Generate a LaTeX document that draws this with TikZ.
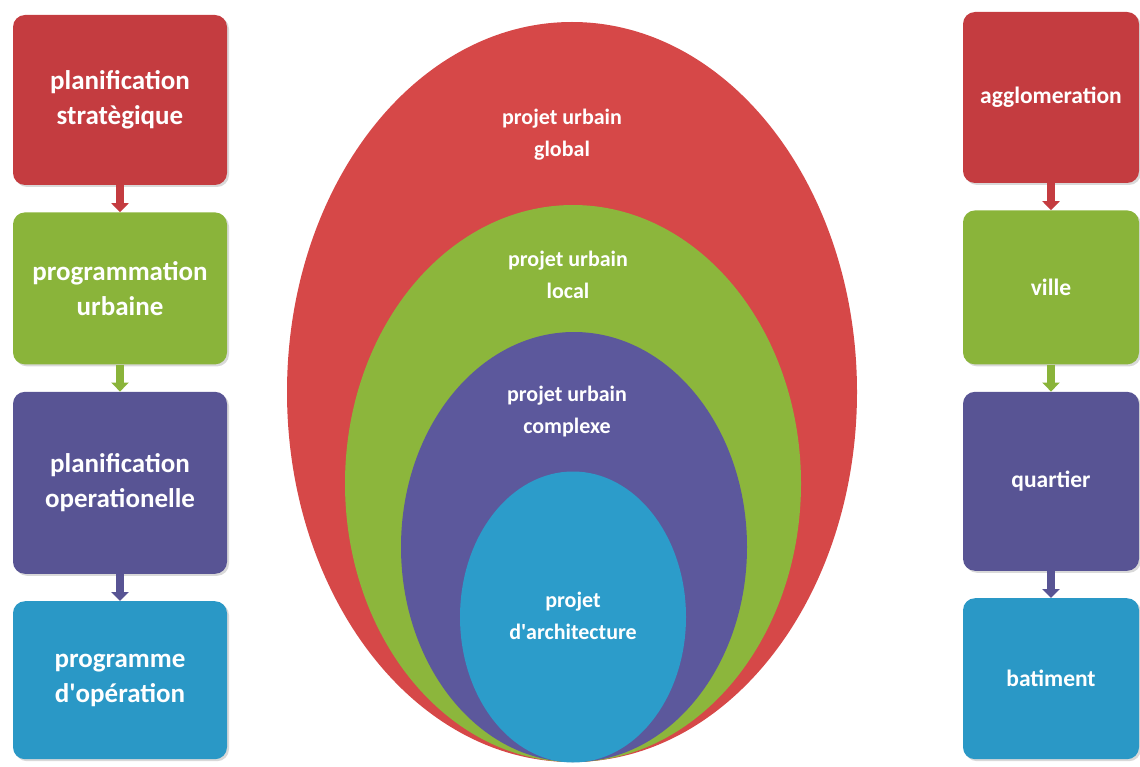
\documentclass[tikz,border=0pt]{standalone}
\usepackage{fontspec}
\setmainfont{Carlito}
\usetikzlibrary{positioning,shapes.geometric,arrows.meta,shadows}

\definecolor{boxred}{RGB}{196,60,64}
\definecolor{boxgreen}{RGB}{138,180,58}
\definecolor{boxblue}{RGB}{88,84,148}
\definecolor{boxcyan}{RGB}{42,152,198}
\definecolor{ovalred}{RGB}{214,72,72}
\definecolor{ovalgreen}{RGB}{140,182,60}
\definecolor{ovalblue}{RGB}{92,88,156}
\definecolor{ovalcyan}{RGB}{44,156,202}

\tikzset{
	box/.style={rounded corners=12pt, minimum width=214pt, text width=200pt, align=center,
		text=white, font=\bfseries\fontsize{27}{35}\selectfont,
		drop shadow={opacity=0.3, shadow xshift=2pt, shadow yshift=-2pt}},
	rbox/.style={box, minimum width=176pt, text width=168pt, font=\bfseries\fontsize{23.5}{30}\selectfont},
	oval/.style={ellipse, inner sep=0pt},
	otext/.style={align=center, text=white, font=\bfseries\fontsize{22}{32}\selectfont},
	link/.style={-{Triangle[width=17pt,length=9pt]}, line width=8pt}
}

\begin{document}
\begin{tikzpicture}[x=1pt,y=-1pt,node distance=27pt]
	\useasboundingbox (0,0) rectangle (1140,767);

	% nested ovals
	\node (global)[oval,fill=ovalred,minimum width=570pt,minimum height=740pt] at (572,392){};
	\node (local)[oval,fill=ovalgreen,minimum width=456pt,minimum height=557pt] at (573,483.5){};
	\node (complexe)[oval,fill=ovalblue,minimum width=346pt,minimum height=430pt] at (574,547){};
	\node (archi)[oval,fill=ovalcyan,minimum width=226pt,minimum height=291pt] at (573,617){};

	\node (globaltxt)[otext] at (562,135){projet urbain\\global};
	\node (localtxt)[otext] at (568,275){projet urbain\\local};
	\node (complexetxt)[otext] at (567,412){projet urbain\\complexe};
	\node (architxt)[otext] at (573,616){projet\\d\textquotesingle architecture};

	% left column
	\node (strat)[box,fill=boxred,minimum height=170pt] at (120,100){planification\\strat\`egique};
	\node (progurb)[box,fill=boxgreen,minimum height=152pt,below=of strat]{programmation\\urbaine};
	\node (operat)[box,fill=boxblue,minimum height=182pt,below=of progurb]{planification\\operationelle};
	\node (progop)[box,fill=boxcyan,minimum height=158pt,below=of operat]{programme\\d\textquotesingle op\'eration};

	% right column
	\node (agglo)[rbox,fill=boxred,minimum height=171pt] at (1051,97.5){agglomeration};
	\node (ville)[rbox,fill=boxgreen,minimum height=154pt,below=of agglo]{ville};
	\node (quartier)[rbox,fill=boxblue,minimum height=179pt,below=of ville]{quartier};
	\node (batiment)[rbox,fill=boxcyan,minimum height=161pt,below=of quartier]{batiment};

	% draw the connections
	\draw[link,boxred] (strat)--(progurb);
	\draw[link,boxgreen] (progurb)--(operat);
	\draw[link,boxblue] (operat)--(progop);
	\draw[link,boxred] (agglo)--(ville);
	\draw[link,boxgreen] (ville)--(quartier);
	\draw[link,boxblue] (quartier)--(batiment);

\end{tikzpicture}
\end{document}
